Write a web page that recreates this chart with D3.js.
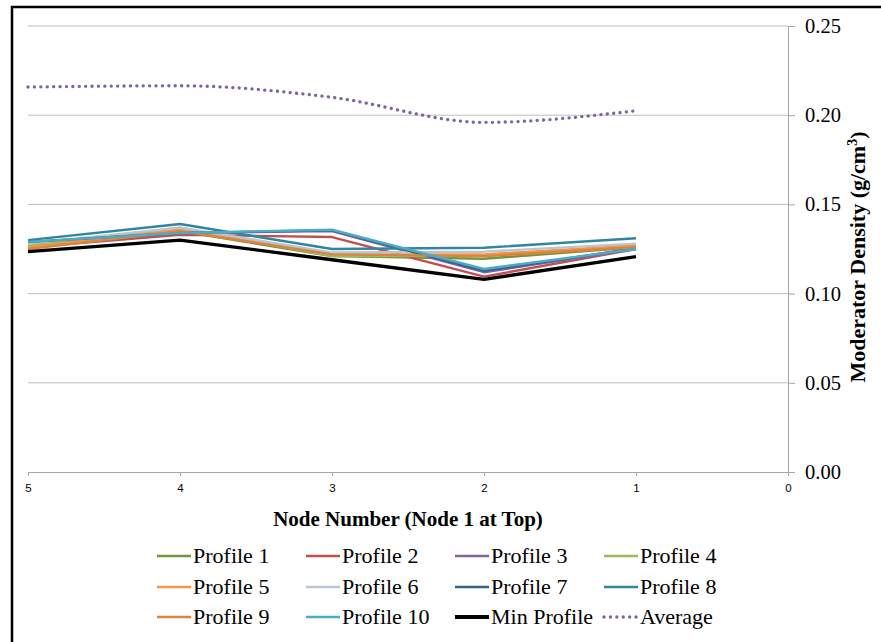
<!DOCTYPE html>
<html lang="en">
<head>
<meta charset="UTF-8">
<title>Moderator Density by Node</title>
<script src="https://d3js.org/d3.v7.min.js"></script>
<style>
    body { margin: 0; background: #ffffff; }
    svg { display: block; }
    .serif { font-family: 'Liberation Serif', 'Times New Roman', serif; }
</style>
</head>
<body>
<div id="chart"></div>
<script>
    // node numbers along the x axis (axis runs 5 -> 0)
    const nodes = [5, 4, 3, 2, 1];
    const xTicks = [5, 4, 3, 2, 1, 0];
    const yTicks = [0, 0.05, 0.10, 0.15, 0.20, 0.25];

    const seriesNames = ["Profile 1", "Profile 2", "Profile 3", "Profile 4", "Profile 5", "Profile 6",
        "Profile 7", "Profile 8", "Profile 9", "Profile 10", "Min Profile", "Average"];
    const seriesColors = ["#77933C", "#C0504D", "#8064A2", "#9BBB59", "#F79646", "#B9C4D6",
        "#376092", "#31859C", "#D8853E", "#4BACC6", "#000000", "#7E649E"];

    // values at nodes 5,4,3,2,1
    const profile1 = [0.126, 0.135, 0.121, 0.1195, 0.126];
    const profile2 = [0.126, 0.133, 0.1317, 0.1095, 0.125];
    const profile3 = [0.128, 0.134, 0.135, 0.112, 0.125];
    const profile4 = [0.127, 0.137, 0.121, 0.121, 0.127];
    const profile5 = [0.126, 0.136, 0.122, 0.122, 0.127];
    const profile6 = [0.128, 0.137, 0.123, 0.1235, 0.128];
    const profile7 = [0.129, 0.134, 0.1355, 0.1128, 0.1254];
    const profile8 = [0.130, 0.139, 0.125, 0.1257, 0.131];
    const profile9 = [0.125, 0.135, 0.122, 0.121, 0.126];
    const profile10 = [0.129, 0.134, 0.1358, 0.1138, 0.125];
    const minProfile = [0.1235, 0.130, 0.119, 0.108, 0.1207];
    const average = [0.2158, 0.2165, 0.210, 0.196, 0.2025];

    const profiles = [profile1, profile2, profile3, profile4, profile5, profile6,
        profile7, profile8, profile9, profile10];

    const W = 881, H = 642;
    const svg = d3.select("#chart").append("svg")
        .attr("width", W).attr("height", H);

    svg.append("rect").attr("width", W).attr("height", H).attr("fill", "#fff");

    // frame (only left and top edges show in the picture)
    svg.append("path")
        .attr("d", `M12,${H} L12,7 L${W},7`)
        .attr("fill", "none").attr("stroke", "#000").attr("stroke-width", 2.5);

    const x = d3.scaleLinear().domain([5, 0]).range([28, 788]);
    const y = d3.scaleLinear().domain([0, 0.25]).range([472, 26]);

    // gridlines
    svg.append("g").selectAll("line")
        .data(yTicks.filter(d => d > 0))
        .enter().append("line")
        .attr("x1", x(5)).attr("x2", x(0))
        .attr("y1", d => y(d)).attr("y2", d => y(d))
        .attr("stroke", "#BEBEBE").attr("stroke-width", 1);

    // right y axis
    const yAxis = svg.append("g")
        .attr("transform", `translate(${x(0)},0)`)
        .call(d3.axisRight(y).tickValues(yTicks).tickFormat(d3.format(".2f")).tickSize(7).tickPadding(10));
    yAxis.select(".domain").attr("stroke", "#A6A6A6");
    yAxis.selectAll(".tick line").attr("stroke", "#A6A6A6");
    yAxis.selectAll("text")
        .attr("class", "serif")
        .attr("font-size", 20.5).attr("fill", "#000");

    // bottom x axis
    const xAxis = svg.append("g")
        .attr("transform", `translate(0,${y(0)})`)
        .call(d3.axisBottom(x).tickValues(xTicks).tickFormat(d3.format("d")).tickSize(4).tickSizeOuter(0).tickPadding(8));
    xAxis.select(".domain").attr("stroke", "#A6A6A6");
    xAxis.selectAll(".tick line").attr("stroke", "#A6A6A6");
    xAxis.selectAll("text")
        .attr("font-family", "'Liberation Sans Narrow', 'Liberation Sans', sans-serif")
        .attr("font-size", 11.5).attr("fill", "#000");

    // axis titles
    svg.append("text")
        .attr("class", "serif")
        .attr("x", 408).attr("y", 526)
        .attr("text-anchor", "middle")
        .attr("font-size", 21).attr("font-weight", "bold")
        .text("Node Number (Node 1 at Top)");

    const yt = svg.append("text")
        .attr("class", "serif")
        .attr("transform", "translate(865,257) rotate(-90)")
        .attr("text-anchor", "middle")
        .attr("font-size", 22).attr("font-weight", "bold");
    yt.append("tspan").text("Moderator Density (g/cm");
    yt.append("tspan").attr("font-size", 14).attr("dy", -8).text("3");
    yt.append("tspan").attr("dy", 8).text(")");

    // lines
    const line = d3.line().x((d, i) => x(nodes[i])).y(d => y(d));
    const smooth = d3.line().x((d, i) => x(nodes[i])).y(d => y(d)).curve(d3.curveMonotoneX);

    profiles.forEach((vals, k) => {
        svg.append("path")
            .attr("d", line(vals))
            .attr("fill", "none")
            .attr("stroke", seriesColors[k])
            .attr("stroke-width", 2.4)
            .attr("stroke-linejoin", "round");
    });
    svg.append("path")
        .attr("d", line(minProfile))
        .attr("fill", "none").attr("stroke", "#000")
        .attr("stroke-width", 3.4).attr("stroke-linejoin", "round");
    svg.append("path")
        .attr("d", smooth(average))
        .attr("fill", "none").attr("stroke", seriesColors[11])
        .attr("stroke-width", 3.3).attr("stroke-linecap", "round")
        .attr("stroke-dasharray", "0.1 6.3");

    // legend
    const colX = [157, 306, 455, 604];
    const rowY = [556, 587, 617];
    const legend = svg.append("g");
    seriesNames.forEach((name, k) => {
        const cx = colX[k % 4], cy = rowY[Math.floor(k / 4)];
        const g = legend.append("g").attr("transform", `translate(${cx},${cy})`);
        const l = g.append("line").attr("x1", 0).attr("x2", 34).attr("y1", 0).attr("y2", 0)
            .attr("stroke", seriesColors[k]);
        if (k === 10) l.attr("stroke-width", 3.8);
        else if (k === 11) l.attr("stroke-width", 3.3).attr("stroke-linecap", "round").attr("stroke-dasharray", "0.1 6.3");
        else l.attr("stroke-width", 2.6);
        g.append("text")
            .attr("class", "serif")
            .attr("x", 36).attr("y", 0).attr("dy", "0.33em")
            .attr("font-size", 22).attr("fill", "#000")
            .text(name);
    });
</script>
</body>
</html>
